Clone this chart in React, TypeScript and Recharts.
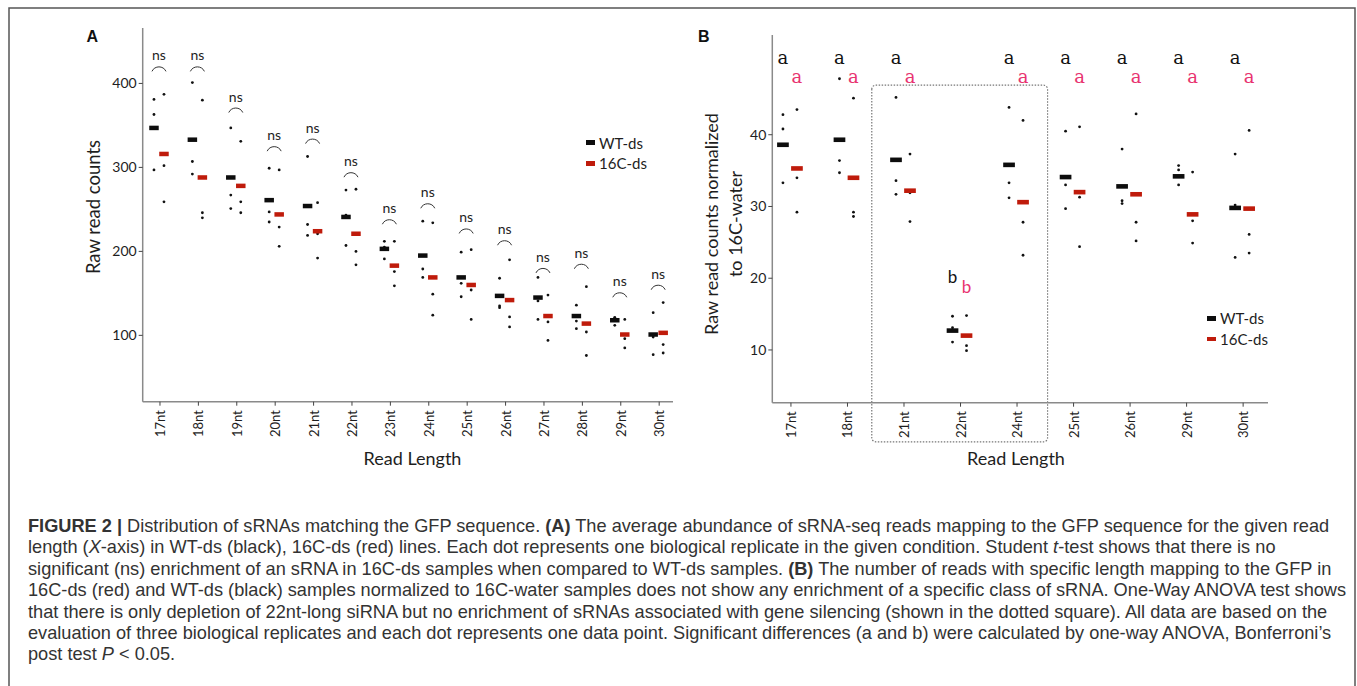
import React from 'react';
import { ScatterChart, Scatter, XAxis, YAxis, ReferenceArea, Legend } from 'recharts';

// ---------- Panel A data ----------
const categoriesA = ['17nt', '18nt', '19nt', '20nt', '21nt', '22nt', '23nt', '24nt', '25nt', '26nt', '27nt', '28nt', '29nt', '30nt'];
const ticksA = [0, 1, 2, 3, 4, 5, 6, 7, 8, 9, 10, 11, 12, 13];
const yTicksA = [100, 200, 300, 400];
const wtMeanA = [347, 333, 288, 261, 254, 241, 203, 195, 169, 147, 145, 123, 118, 101];
const c16MeanA = [316, 288, 278, 244, 224, 221, 183, 169, 160, 142, 123, 114, 101, 103];
const wtDotsA = [
  [381, 363, 297], [401, 307, 292], [347, 267, 251], [299, 247, 235], [313, 232, 219],
  [273, 243, 207], [212, 205, 191], [236, 179, 169], [199, 162, 146], [168, 135, 133],
  [169, 141, 119], [136, 117, 108], [121, 121, 112], [127, 98, 77],
];
const c16DotsA = [
  [387, 302, 259], [380, 246, 240], [331, 259, 246], [297, 229, 206], [258, 221, 192],
  [274, 200, 184], [212, 176, 159], [234, 149, 124], [202, 154, 119], [190, 122, 110],
  [148, 116, 94], [158, 104, 76], [119, 96, 85], [139, 89, 79],
];
const nsLevelA = [434, 434, 385, 339, 348, 308, 252, 271, 241, 227, 194, 199, 165, 174];

// ---------- Panel B data ----------
const categoriesB = ['17nt', '18nt', '21nt', '22nt', '24nt', '25nt', '26nt', '29nt', '30nt'];
const ticksB = [0, 1, 2, 3, 4, 5, 6, 7, 8];
const yTicksB = [10, 20, 30, 40];
const wtMeanB = [38.6, 39.3, 36.5, 12.7, 35.8, 34.1, 32.8, 34.2, 29.8];
const c16MeanB = [35.3, 34.0, 32.2, 12.0, 30.6, 32.0, 31.7, 28.9, 29.7];
const wtDotsB = [
  [42.8, 40.8, 33.3], [47.8, 36.4, 34.7], [45.2, 33.6, 31.7], [14.7, 13.1, 11.1], [43.8, 33.3, 31.2],
  [40.5, 33.0, 29.7], [38.0, 30.8, 30.4], [35.7, 35.1, 33.0], [37.3, 30.2, 22.9],
];
const c16DotsB = [
  [43.5, 34.0, 29.2], [45.1, 29.2, 28.6], [37.3, 31.9, 27.9], [14.8, 10.6, 9.9], [42.0, 27.8, 23.2],
  [41.1, 31.3, 24.4], [42.9, 27.8, 25.2], [34.8, 28.0, 24.9], [40.6, 26.1, 23.5],
];
const groupsWTB = ['a', 'a', 'a', 'b', 'a', 'a', 'a', 'a', 'a'];
const groupsC16B = ['a', 'a', 'a', 'b', 'a', 'a', 'a', 'a', 'a'];
const groupLevelWTB = [50.8, 50.8, 50.8, 20.2, 50.8, 50.8, 50.8, 50.8, 50.8];
const groupLevelC16B = [48.1, 48.1, 48.1, 18.9, 48.1, 48.1, 48.1, 48.1, 48.1];
const boxB = { x1: 1.43, x2: 4.54, y1: -2.8, y2: 46.9 };

// ---------- colours ----------
const WT_COLOR = '#0d0d0d';
const C16_COLOR = '#bf1b0b';
const PINK = '#e8336f';
const AXIS = '#8a8a8a';
const TEXT = '#1e1e1e';
const FONT = 'Lato, "Open Sans", sans-serif';

// ---------- tables ----------
const meanTable = (vals: number[]) => vals.map((v, i) => ({ x: i, y: v }));
const dotTable = (vals: number[][]) => vals.flatMap((arr, i) => arr.map((v) => ({ x: i, y: v })));
const labelTable = (levels: number[], labels?: string[]) =>
  levels.map((v, i) => ({ x: i, y: v, label: labels ? labels[i] : 'ns' }));

const wtMeanTableA = meanTable(wtMeanA);
const c16MeanTableA = meanTable(c16MeanA);
const wtDotTableA = dotTable(wtDotsA);
const c16DotTableA = dotTable(c16DotsA);
const nsTableA = labelTable(nsLevelA);

const wtMeanTableB = meanTable(wtMeanB);
const c16MeanTableB = meanTable(c16MeanB);
const wtDotTableB = dotTable(wtDotsB);
const c16DotTableB = dotTable(c16DotsB);
const wtGroupTableB = labelTable(groupLevelWTB, groupsWTB);
const c16GroupTableB = labelTable(groupLevelC16B, groupsC16B);

// ---------- shapes ----------
const barShape = (w: number, h: number, color: string, dx: number) => (props: any) => {
  const { cx, cy } = props;
  if (cx == null || cy == null) return <g />;
  return <rect x={cx + dx - w / 2} y={cy - h / 2} width={w} height={h} fill={color} />;
};
const dotShape = (dx: number) => (props: any) => {
  const { cx, cy } = props;
  if (cx == null || cy == null) return <g />;
  return <circle cx={cx + dx} cy={cy} r={1.4} fill="#111" />;
};
const nsShape = (dx: number) => (props: any) => {
  const { cx, cy } = props;
  if (cx == null || cy == null) return <g />;
  const x = cx + dx;
  return (
    <g>
      <text x={x} y={cy} textAnchor="middle" dominantBaseline="central" fontSize={14} fill={TEXT} fontFamily={FONT}>
        ns
      </text>
      <path
        d={`M${x - 7},${cy + 16.5} C${x - 4.5},${cy + 10.5} ${x + 4.5},${cy + 10.5} ${x + 7},${cy + 16.5}`}
        fill="none"
        stroke="#333"
        strokeWidth={1}
      />
    </g>
  );
};
const letterShape = (color: string, dx: number) => (props: any) => {
  const { cx, cy, payload } = props;
  if (cx == null || cy == null) return <g />;
  const l = payload.label;
  const isA = l === 'a';
  return (
    <text
      x={cx + dx}
      y={cy}
      textAnchor="middle"
      dominantBaseline="central"
      fontSize={isA ? 18 : 17}
      fill={color}
      fontFamily={isA ? '"DejaVu Serif", serif' : FONT}
    >
      {l}
    </text>
  );
};

const rotTick = (labels: string[]) => (props: any) => {
  const { x, y, payload } = props;
  const label = labels[payload.value];
  const yy = y + 2.5;
  return (
    <text
      x={x}
      y={yy}
      transform={`rotate(-90 ${x} ${yy})`}
      textAnchor="end"
      dominantBaseline="central"
      fontSize={13}
      fill={TEXT}
      fontFamily={FONT}
    >
      {label}
    </text>
  );
};

const legendContent = (markerW: number) => () => (
  <div style={{ fontFamily: FONT, fontSize: 15, color: TEXT }}>
    {[
      { name: 'WT-ds', color: WT_COLOR },
      { name: '16C-ds', color: C16_COLOR },
    ].map((it) => (
      <div key={it.name} style={{ display: 'flex', alignItems: 'center', height: 20.6, whiteSpace: 'nowrap' }}>
        <span style={{ display: 'inline-block', width: markerW, height: 4.5, background: it.color, marginRight: 4 }} />
        {it.name}
      </div>
    ))}
  </div>
);

const yTickStyle = { fontSize: 14, fill: TEXT, fontFamily: FONT };

function PanelA() {
  return (
    <ScatterChart width={690} height={480} margin={{ top: 28, right: 17, bottom: 28.3, left: 82.7 }}>
      <XAxis
        type="number"
        dataKey="x"
        domain={[-0.45, 13.36]}
        allowDataOverflow
        ticks={ticksA}
        interval={0}
        height={50}
        tick={rotTick(categoriesA)}
        tickSize={4}
        axisLine={{ stroke: AXIS, strokeWidth: 1.5 }}
        tickLine={{ stroke: '#444', strokeWidth: 1 }}
      />
      <YAxis
        type="number"
        dataKey="y"
        domain={[21, 466]}
        allowDataOverflow
        ticks={yTicksA}
        width={60}
        tickSize={4}
        tick={yTickStyle}
        axisLine={{ stroke: AXIS, strokeWidth: 1.5 }}
        tickLine={{ stroke: '#444', strokeWidth: 1 }}
      />
      <Scatter data={wtDotTableA} shape={dotShape(-6)} isAnimationActive={false} legendType="none" />
      <Scatter data={c16DotTableA} shape={dotShape(4)} isAnimationActive={false} legendType="none" />
      <Scatter name="WT-ds" data={wtMeanTableA} shape={barShape(9.5, 4.5, WT_COLOR, -6)} isAnimationActive={false} />
      <Scatter name="16C-ds" data={c16MeanTableA} shape={barShape(9.5, 4.5, C16_COLOR, 4)} isAnimationActive={false} />
      <Scatter data={nsTableA} shape={nsShape(-1)} isAnimationActive={false} legendType="none" />
      <Legend
        layout="vertical"
        align="center"
        verticalAlign="middle"
        content={legendContent(9)}
        wrapperStyle={{ position: 'absolute', left: 586, top: 132.4, width: 'auto', height: 'auto' }}
      />
    </ScatterChart>
  );
}

function PanelB() {
  return (
    <ScatterChart width={600} height={480} margin={{ top: 35, right: 22, bottom: 27.3, left: 42.3 }}>
      <XAxis
        type="number"
        dataKey="x"
        domain={[-0.33, 8.44]}
        allowDataOverflow
        ticks={ticksB}
        interval={0}
        height={50}
        tick={rotTick(categoriesB)}
        tickSize={4}
        axisLine={{ stroke: AXIS, strokeWidth: 1.5 }}
        tickLine={{ stroke: '#444', strokeWidth: 1 }}
      />
      <YAxis
        type="number"
        dataKey="y"
        domain={[2.65, 53.9]}
        allowDataOverflow
        ticks={yTicksB}
        width={40}
        tickSize={4}
        tick={yTickStyle}
        axisLine={{ stroke: AXIS, strokeWidth: 1.5 }}
        tickLine={{ stroke: '#444', strokeWidth: 1 }}
      />
      <ReferenceArea
        x1={boxB.x1}
        x2={boxB.x2}
        y1={boxB.y1}
        y2={boxB.y2}
        ifOverflow="visible"
        fill="none"
        fillOpacity={0}
        stroke="#777"
        strokeWidth={1.2}
        strokeDasharray="1.5 1.5"
        radius={4}
      />
      <Scatter data={wtDotTableB} shape={dotShape(-8)} isAnimationActive={false} legendType="none" />
      <Scatter data={c16DotTableB} shape={dotShape(6)} isAnimationActive={false} legendType="none" />
      <Scatter name="WT-ds" data={wtMeanTableB} shape={barShape(11.7, 4.6, WT_COLOR, -8)} isAnimationActive={false} />
      <Scatter name="16C-ds" data={c16MeanTableB} shape={barShape(11.7, 4.6, C16_COLOR, 6)} isAnimationActive={false} />
      <Scatter data={wtGroupTableB} shape={letterShape('#111', -8)} isAnimationActive={false} legendType="none" />
      <Scatter data={c16GroupTableB} shape={letterShape(PINK, 6)} isAnimationActive={false} legendType="none" />
      <Legend
        layout="vertical"
        align="center"
        verticalAlign="middle"
        content={legendContent(9.5)}
        wrapperStyle={{ position: 'absolute', left: 516.5, top: 308, width: 'auto', height: 'auto' }}
      />
    </ScatterChart>
  );
}

const captionLines: React.ReactNode[] = [
  <>
    <b>FIGURE 2 |</b> Distribution of sRNAs matching the GFP sequence. <b>(A)</b> The average abundance of sRNA-seq reads mapping to the GFP sequence for the given read
  </>,
  <>
    length (<i>X</i>-axis) in WT-ds (black), 16C-ds (red) lines. Each dot represents one biological replicate in the given condition. Student <i>t</i>-test shows that there is no
  </>,
  <>
    significant (ns) enrichment of an sRNA in 16C-ds samples when compared to WT-ds samples. <b>(B)</b> The number of reads with specific length mapping to the GFP in
  </>,
  <>16C-ds (red) and WT-ds (black) samples normalized to 16C-water samples does not show any enrichment of a specific class of sRNA. One-Way ANOVA test shows</>,
  <>that there is only depletion of 22nt-long siRNA but no enrichment of sRNAs associated with gene silencing (shown in the dotted square). All data are based on the</>,
  <>evaluation of three biological replicates and each dot represents one data point. Significant differences (a and b) were calculated by one-way ANOVA, Bonferroni’s</>,
  <>
    post test <i>P</i> &lt; 0.05.
  </>,
];

export default function App() {
  return (
    <div
      style={{
        position: 'absolute',
        left: 0,
        top: 0,
        width: 1357,
        height: 686,
        background: '#fff',
        overflow: 'hidden',
      }}
    >
      <div style={{ position: 'absolute', left: 0, top: 0 }}>
        <PanelA />
      </div>
      <div style={{ position: 'absolute', left: 690, top: 0 }}>
        <PanelB />
      </div>
      <svg
        width={1357}
        height={686}
        style={{ position: 'absolute', left: 0, top: 0, pointerEvents: 'none' }}
      >
        <rect x={9} y={8} width={1346} height={720} fill="none" stroke="#555" strokeWidth={1.5} />
        <text x={86.5} y={41.7} fontSize={16} fontWeight="bold" fontFamily='"Liberation Sans", Arial, sans-serif' fill="#111">
          A
        </text>
        <text x={698} y={41.7} fontSize={16} fontWeight="bold" fontFamily='"Liberation Sans", Arial, sans-serif' fill="#111">
          B
        </text>
        <text
          x={93}
          y={207}
          transform="rotate(-90 93 207)"
          textAnchor="middle"
          dominantBaseline="central"
          fontSize={18.5}
          fontFamily={FONT}
          fill={TEXT}
        >
          Raw read counts
        </text>
        <text x={412.5} y={458} textAnchor="middle" dominantBaseline="central" fontSize={18} fontFamily={FONT} fill={TEXT}>
          Read Length
        </text>
        <text
          x={710.5}
          y={224}
          transform="rotate(-90 710.5 224)"
          textAnchor="middle"
          dominantBaseline="central"
          fontSize={18}
          fontFamily={FONT}
          fill={TEXT}
        >
          Raw read counts normalized
        </text>
        <text
          x={734.5}
          y={224}
          transform="rotate(-90 734.5 224)"
          textAnchor="middle"
          dominantBaseline="central"
          fontSize={18}
          fontFamily={FONT}
          fill={TEXT}
        >
          to 16C-water
        </text>
        <text x={1016} y={458.3} textAnchor="middle" dominantBaseline="central" fontSize={18} fontFamily={FONT} fill={TEXT}>
          Read Length
        </text>
      </svg>
      <div
        style={{
          position: 'absolute',
          left: 28,
          top: 516,
          fontFamily: '"Liberation Sans", Arial, sans-serif',
          fontSize: 18.2,
          lineHeight: '21.4px',
          color: '#333',
          whiteSpace: 'nowrap',
        }}
      >
        {captionLines.map((l, i) => (
          <div key={i}>{l}</div>
        ))}
      </div>
    </div>
  );
}
